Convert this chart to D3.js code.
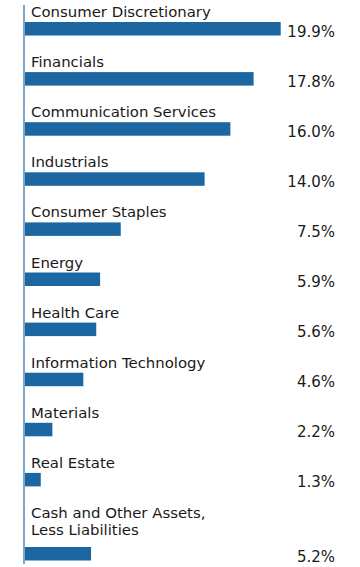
<!DOCTYPE html>
<html>
<head>
<meta charset="utf-8">
<script src="https://cdn.jsdelivr.net/npm/d3@7"></script>
<style>
  html, body { margin: 0; padding: 0; background: #fff; }
  svg { display: block; }
</style>
</head>
<body>
<svg id="chart" width="360" height="567"></svg>
<script>
const categories = [
  ["Consumer Discretionary"],
  ["Financials"],
  ["Communication Services"],
  ["Industrials"],
  ["Consumer Staples"],
  ["Energy"],
  ["Health Care"],
  ["Information Technology"],
  ["Materials"],
  ["Real Estate"],
  ["Cash and Other Assets,", "Less Liabilities"]
];
const values = [19.9, 17.8, 16.0, 14.0, 7.5, 5.9, 5.6, 4.6, 2.2, 1.3, 5.2];
const valueLabels = ["19.9%", "17.8%", "16.0%", "14.0%", "7.5%", "5.9%", "5.6%", "4.6%", "2.2%", "1.3%", "5.2%"];

const svg = d3.select("#chart");
const axisX = 24;
const x = d3.scaleLinear().domain([0, 19.9]).range([axisX, 280.7]);
const rowY = d3.scaleLinear().domain([0, 10]).range([17, 518]); // label baseline per row
const lineH = 17;
const barH = 13.5;
const font = "'DejaVu Sans', sans-serif";

const barTop = (d, i) => rowY(i) + 5 + (categories[i].length - 1) * 24;

// bars
svg.selectAll("rect.bar").data(values).join("rect")
  .attr("class", "bar")
  .attr("x", x(0))
  .attr("y", (d, i) => barTop(d, i))
  .attr("width", d => x(d) - x(0))
  .attr("height", barH)
  .attr("fill", "#1c66a2");

// axis line
svg.append("line")
  .attr("x1", axisX).attr("x2", axisX)
  .attr("y1", 5).attr("y2", 564)
  .attr("stroke", "#7ea6c8").attr("stroke-width", 2);

// category labels
const lab = svg.selectAll("text.cat").data(categories).join("text")
  .attr("class", "cat")
  .attr("x", 31)
  .attr("y", (d, i) => rowY(i))
  .attr("font-family", font)
  .attr("font-size", 14.9)
  .attr("fill", "#1a1a1a");
lab.selectAll("tspan").data(d => d).join("tspan")
  .attr("x", 31)
  .attr("dy", (d, j) => j === 0 ? 0 : lineH)
  .text(d => d);

// value labels
svg.selectAll("text.val").data(valueLabels).join("text")
  .attr("class", "val")
  .attr("x", 335)
  .attr("y", (d, i) => barTop(values[i], i) + 14.5)
  .attr("text-anchor", "end")
  .attr("font-family", font)
  .attr("font-size", 15)
  .attr("fill", "#1a1a1a")
  .text(d => d);
</script>
</body>
</html>
